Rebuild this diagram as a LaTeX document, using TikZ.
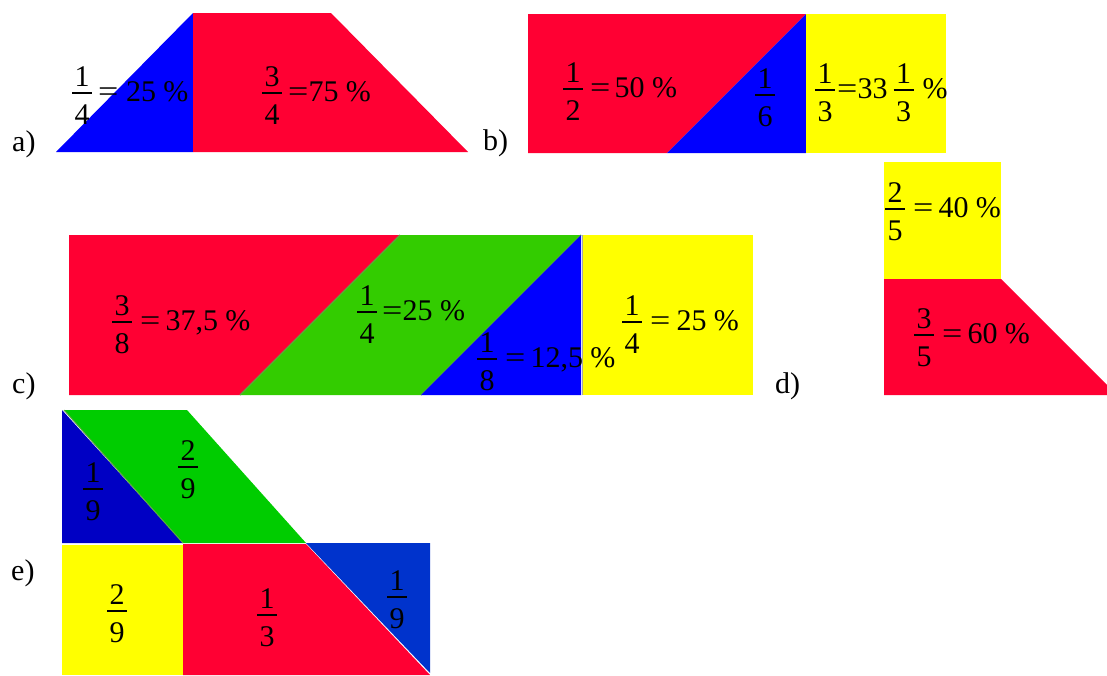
\documentclass[tikz,border=0pt]{standalone}
\usepackage{fontspec}
\usepackage{graphicx}
\setmainfont{Liberation Serif}
\definecolor{myred}{RGB}{255,0,51}
\definecolor{myblue}{RGB}{0,0,255}
\definecolor{myyellow}{RGB}{255,255,0}
\definecolor{greenC}{RGB}{51,204,0}
\definecolor{greenE}{RGB}{0,204,0}
\definecolor{blueEa}{RGB}{0,0,196}
\definecolor{blueEb}{RGB}{0,51,204}
\definecolor{edgeG}{RGB}{90,170,60}
\newcommand\fr[2]{\mbox{\rlap{\raisebox{15pt}{\makebox[20pt]{#1}}}\rlap{\raisebox{-23pt}{\makebox[20pt]{#2}}}\rule[7.4pt]{20pt}{1.2pt}}}
\newcommand\eq{\scalebox{1.2}[1]{=}}
\begin{document}
\begin{tikzpicture}[x=1pt,y=-1pt,
  lab/.style={anchor=base west, inner sep=0pt, font=\fontsize{30}{34}\selectfont}]
\useasboundingbox (0,0) rectangle (1107,675);
% a)
\fill[myblue] (56,152) -- (193,13) -- (193,152) -- cycle;
\fill[myred] (193,13) -- (331,13) -- (468,152) -- (193,152) -- cycle;
\node[lab] (la) at (12,151) {a)};
\node[lab] (a1) at (72,101) {\fr{1}{4}\kern6pt\eq\ 25 \%};
\node[lab] (a2) at (262,101) {\fr{3}{4}\kern6pt\eq75 \%};
% b)
\fill[myred] (528,14) -- (806,14) -- (667,153) -- (528,153) -- cycle;
\fill[myblue] (806,14) -- (806,153) -- (667,153) -- cycle;
\fill[myyellow] (806,14) rectangle (946,153);
\node[lab] (lb) at (483,150) {b)};
\node[lab] (b1) at (563,97) {\fr{1}{2}\kern7pt\eq\kern4pt50 \%};
\node[lab] (b2) at (755,103) {\fr{1}{6}};
\node[lab] (b3) at (815,98) {\fr{1}{3}\kern2pt\eq33\kern6pt\fr{1}{3}\kern9pt\%};
% c)
\fill[myred] (69,235) -- (400,235) -- (240,395) -- (69,395) -- cycle;
\fill[greenC] (400,235) -- (581,235) -- (421,395) -- (240,395) -- cycle;
\draw[edgeG, line width=1.2pt] (400,235) -- (240,395) (581,235) -- (421,395);
\fill[myblue] (581,235) -- (581,395) -- (421,395) -- cycle;
\fill[myyellow] (582,235) rectangle (753,395);
\draw[gray!70, line width=1pt] (582,235) -- (582,395);
\node[lab] (lc) at (12,393) {c)};
\node[lab] (c1) at (112,330) {\fr{3}{8}\kern8pt\eq\kern5pt37,5 \%};
\node[lab] (c2) at (357,320) {\fr{1}{4}\kern5pt\eq25 \%};
\node[lab] (c3) at (477,367) {\fr{1}{8}\kern8pt\eq\kern5pt12,5 \%};
\node[lab] (c4) at (622,330) {\fr{1}{4}\kern8pt\eq\kern6pt25 \%};
% d)
\fill[myyellow] (884,162) rectangle (1001,279);
\fill[myred] (884,279) -- (1001,279) -- (1107,385) -- (1107,395) -- (884,395) -- cycle;
\node[lab] (ld) at (775,393) {d)};
\node[lab] (d1) at (885,217) {\fr{2}{5}\kern8pt\eq\kern5pt40 \%};
\node[lab] (d2) at (914,343) {\fr{3}{5}\kern8pt\eq\kern5pt60 \%};
% e)
\fill[blueEa] (62,410) -- (62,543) -- (183,543) -- cycle;
\fill[greenE] (64,410) -- (187,410) -- (306,543) -- (183,543) -- cycle;
\draw[edgeG, line width=1pt] (64,410) -- (183,543);
\fill[myyellow] (62,545) rectangle (183,675);
\fill[myred] (183,544) -- (306,544) -- (430,675) -- (183,675) -- cycle;
\fill[blueEb] (306,543) -- (430,543) -- (430,673) -- cycle;
\node[lab] (le) at (11,580) {e)};
\node[lab] (e1) at (83,497) {\fr{1}{9}};
\node[lab] (e2) at (178,475) {\fr{2}{9}};
\node[lab] (e3) at (107,619) {\fr{2}{9}};
\node[lab] (e4) at (257,623) {\fr{1}{3}};
\node[lab] (e5) at (387,605) {\fr{1}{9}};
\end{tikzpicture}
\end{document}
